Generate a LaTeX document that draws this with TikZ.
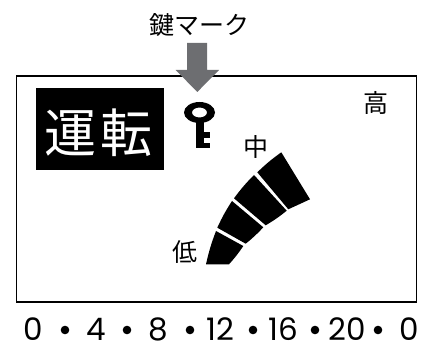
\documentclass[tikz,border=0pt]{standalone}
\usepackage{fontspec}
\setmainfont{Poppins}
\newfontfamily\cjk{Noto Sans CJK JP}
\usepackage{xcolor}
\definecolor{markgray}{HTML}{6D6E71}
\tikzset{
  label/.style={font=\cjk\fontsize{25}{25}\selectfont, inner sep=0pt},
  digit/.style={font=\fontsize{31}{31}\selectfont, inner sep=0pt},
  seg/.style={fill=black, draw=none},
}
\begin{document}
\begin{tikzpicture}[x=1pt, y=-1pt]
  \useasboundingbox (0,0) rectangle (432,342);
  \node[label] (keymark) at (199.5,25) {鍵マーク};
  \node[draw=black, line width=1.5pt, minimum width=400pt, minimum height=226pt, inner sep=0pt] (panel) at (216.5,189) {};
  \node[fill=black, minimum width=128pt, minimum height=82pt, inner sep=0pt] (runbox) at (100,129) {};
  \node[text=white, inner sep=0pt, font=\cjk\fontsize{52}{52}\selectfont] (run) at (98.5,132.5) {運\hspace{4pt}転};
  \node[label] (high) at (375.5,103) {高};
  \node[label] (mid) at (256,147) {中};
  \node[label] (low) at (185,252.5) {低};
  % gray arrow
  \fill[markgray] (187,43) -- (207,43) -- (207,70) -- (219,70) -- (197.3,92) -- (175.7,70) -- (187,70) -- cycle;
  % key
  \fill[black, even odd rule] (199.5,112.5) ellipse (15.5pt and 10.5pt) (199.5,112.5) ellipse (7.5pt and 5pt);
  \fill[black] (195.5,120) rectangle (203.5,148);
  \fill[black] (203.5,132) rectangle (210,138);
  \fill[black] (203.5,143) rectangle (210,148);
  % level segments
  \fill[seg] (281.3,152.3) -- (310,199.3) -- (288.3,209.3) -- (257.3,172.3) to[bend left=4] cycle;
  \fill[seg] (254,175) -- (286.7,210.7) to[bend left=4] (265.7,225.3) -- (234,198.3) to[bend left=4] cycle;
  \fill[seg] (232,201) -- (263.3,227.3) to[bend left=4] (245.7,243.7) -- (217.3,227.7) to[bend left=4] cycle;
  \fill[seg] (216,231) -- (243.3,246) to[bend left=4] (229,264.3) -- (206,264.3) to[bend left=4] cycle;
  \foreach \x/\z/\n in {33/0/a, 96/4/b, 158/8/c, 220/12/d, 283/16/e, 347/20/f, 409/0/g}
  {
    \node[digit] (t\n) at (\x,329) {\z};
  }
  \foreach \x in {65,127,190,253,315,378}
  {
    \fill[black] (\x,330) circle (4.3pt);
  }
\end{tikzpicture}
\end{document}
